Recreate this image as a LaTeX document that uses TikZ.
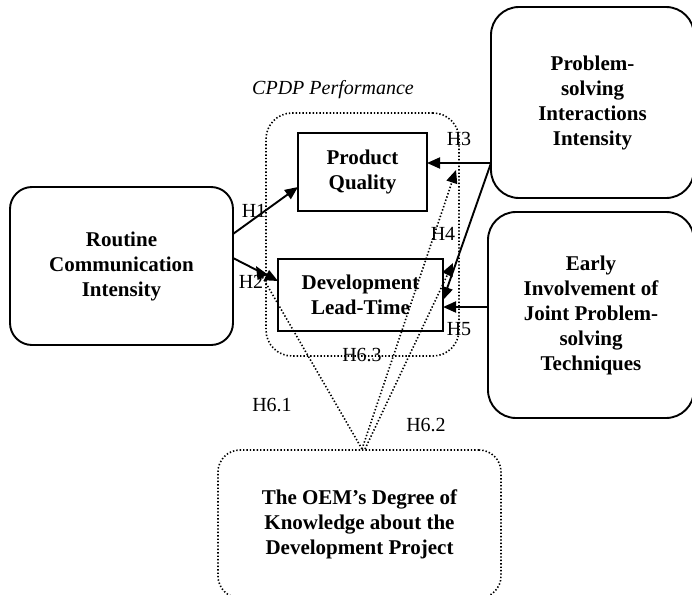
\documentclass[tikz,border=0pt]{standalone}
\usepackage{fontspec}
\setmainfont{Liberation Serif}
\usetikzlibrary{arrows.meta}
\begin{document}
\begin{tikzpicture}[x=1pt,y=1pt,
  box/.style={draw,line width=1.9pt,rounded corners=#1,align=center,inner sep=0pt,
    font=\fontsize{21}{25}\selectfont\bfseries},
  box/.default=22pt,
  sqbox/.style={draw,line width=1.9pt,align=center,inner sep=0pt,
    font=\fontsize{21}{25}\selectfont\bfseries},
  dotbox/.style={draw,line width=1.6pt,dash pattern=on 1.4pt off 2pt,rounded corners=#1,align=center,inner sep=0pt,
    font=\fontsize{21}{25}\selectfont\bfseries},
  dotbox/.default=24pt,
  arr/.style={line width=1.9pt,-{Triangle[length=13pt,width=11pt]}},
  darr/.style={line width=1.6pt,dash pattern=on 1.4pt off 2pt,-{Triangle[length=13pt,width=11pt]}},
  lbl/.style={font=\fontsize{20}{24}\selectfont,inner sep=0pt}
]
\useasboundingbox (0,0) rectangle (692,-594);

% CPDP performance dotted box
\node[dotbox=26pt,minimum width=193pt,minimum height=243pt] (cpdp) at (362.5,-234.5) {};
\node[lbl,font=\fontsize{20}{24}\selectfont\itshape] (cpdplbl) at (333,-90) {CPDP Performance};

% main boxes
\node[box=22pt,minimum width=223pt,minimum height=158pt] (rc) at (121.5,-266)
  {Routine\\Communication\\Intensity};
\node[box=28pt,minimum width=203pt,minimum height=191pt] (ps) at (592.5,-102.5)
  {Problem-\\solving\\Interactions\\Intensity};
\node[box=28pt,minimum width=206pt,minimum height=206pt] (ei) at (591,-315)
  {Early\\Involvement of\\Joint Problem-\\solving\\Techniques};
\node[sqbox,minimum width=129pt,minimum height=78pt] (pq) at (362.5,-172)
  {Product\\Quality};
\node[sqbox,minimum width=165pt,minimum height=72pt] (dl) at (360.5,-295)
  {Development\\Lead-Time};
\node[dotbox=22pt,minimum width=283pt,minimum height=148pt] (oem) at (359.5,-524)
  {The OEM’s Degree of\\Knowledge about the\\Development Project};

% connector end points
\coordinate (rcA) at (233,-234);
\coordinate (rcB) at (233,-258);
\coordinate (pqA) at (298,-187);
\coordinate (dlA) at (278,-281);
\coordinate (psA) at (491,-163);
\coordinate (pqB) at (427,-163);
\coordinate (dlB) at (443,-300);
\coordinate (eiA) at (488,-307);
\coordinate (dlC) at (443,-307);
\coordinate (oemA) at (362,-449);
\coordinate (oemB) at (365,-449);
\coordinate (h61) at (256,-266);
\coordinate (h62) at (456,-170);
\coordinate (h63) at (453,-263);

% solid hypotheses
\draw[arr] (rcA) -- (pqA);
\draw[arr] (rcB) -- (dlA);
\draw[arr] (psA) -- (pqB);
\draw[arr] (psA) -- (dlB);
\draw[arr] (eiA) -- (dlC);

% moderating (dotted) hypotheses
\draw[darr] (oemA) -- (h61);
\draw[darr] (oemA) -- (h62);
\draw[darr] (oemB) -- (h63);

% labels
\node[lbl] (l1) at (254,-211) {H1};
\node[lbl] (l2) at (251,-282) {H2};
\node[lbl] (l3) at (459,-139) {H3};
\node[lbl] (l4) at (443,-234) {H4};
\node[lbl] (l5) at (459,-329) {H5};
\node[lbl] (l61) at (272,-405) {H6.1};
\node[lbl] (l62) at (426,-425) {H6.2};
\node[lbl] (l63) at (362,-355) {H6.3};
\end{tikzpicture}
\end{document}
